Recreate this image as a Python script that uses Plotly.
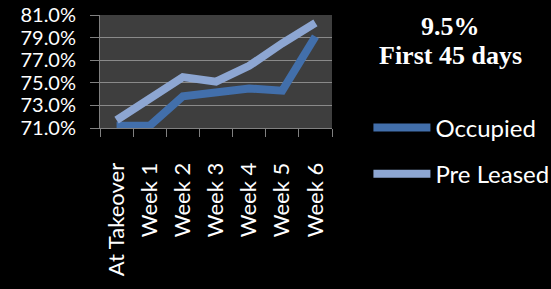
import plotly.graph_objects as go

categories = ["At Takeover", "Week 1", "Week 2", "Week 3", "Week 4", "Week 5", "Week 6"]
occupied = [71.2, 71.2, 73.8, 74.2, 74.5, 74.3, 79.1]
pre_leased = [71.7, 73.7, 75.5, 75.1, 76.5, 78.5, 80.3]
y_ticks = [71, 73, 75, 77, 79, 81]

fig = go.Figure()
fig.add_trace(go.Scatter(x=categories, y=occupied, mode="lines", name="Occupied",
                         legendgroup="a",
                         line=dict(color="#426FAB", width=8)))
fig.add_trace(go.Scatter(x=categories, y=pre_leased, mode="lines", name="Pre Leased",
                         legendgroup="b",
                         line=dict(color="#8DA6D2", width=8)))

fig.update_layout(
    width=551, height=289,
    margin=dict(l=100, r=219, t=15, b=161, autoexpand=False),
    paper_bgcolor="black",
    plot_bgcolor="#3E3E3E",
    font=dict(family="Lato", color="white"),
    showlegend=True,
    legend=dict(x=1.157, xanchor="left", y=0.2, yanchor="top",
                font=dict(size=24, color="white"),
                bgcolor="rgba(0,0,0,0)",
                traceorder="grouped", tracegroupgap=12,
                itemwidth=57),
    annotations=[
        dict(text="<b>9.5%</b>", xref="paper", yref="paper", x=1.51, y=1.0,
             xanchor="center", yanchor="middle", showarrow=False,
             font=dict(family="Liberation Serif", size=26, color="white"),
             yshift=-11),
        dict(text="<b>First 45 days</b>", xref="paper", yref="paper", x=1.51, y=1.0,
             xanchor="center", yanchor="middle", showarrow=False,
             font=dict(family="Liberation Serif", size=26, color="white"),
             yshift=-40),
    ],
)

fig.update_xaxes(type="category", range=[-0.5, 6.5], tickangle=-90,
                 ticks="outside", tickson="boundaries", ticklen=8, tickcolor="#808080",
                 showline=True, linecolor="#808080", linewidth=1, showgrid=False,
                 tickfont=dict(size=22, color="white"), ticklabelstandoff=25,
                 automargin=False)
fig.update_yaxes(range=[71, 81], tickvals=y_ticks,
                 ticktext=[f"{v:.1f}%" for v in y_ticks],
                 ticks="outside", ticklen=9, tickcolor="#808080",
                 showline=True, linecolor="#808080", linewidth=1,
                 showgrid=True, gridcolor="#8A8A8A", gridwidth=1,
                 tickfont=dict(size=20, color="white"), ticklabelstandoff=10,
                 zeroline=False, automargin=False)

fig.write_html("out.html", config={"displayModeBar": False},
               post_script="document.body.style.margin='0';document.body.style.background='black';")
